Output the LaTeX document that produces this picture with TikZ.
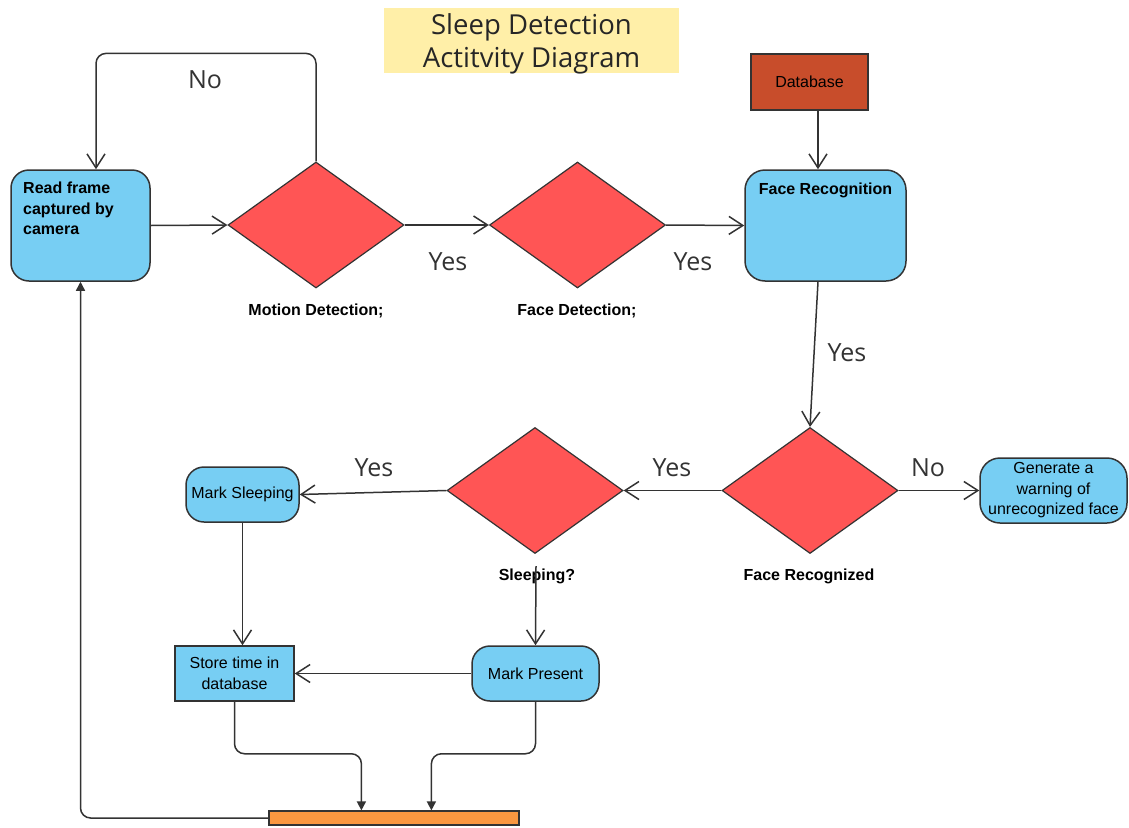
\documentclass[tikz,border=0pt]{standalone}
\usepackage{fontspec}
\usetikzlibrary{shapes.geometric,arrows.meta,calc}
\newfontfamily\boxfont{Liberation Sans}
\newfontfamily\lblfont{Open Sans}
\definecolor{linec}{HTML}{333333}
\definecolor{boxblue}{HTML}{77CEF3}
\definecolor{diared}{HTML}{FF5555}
\definecolor{dbbrown}{HTML}{C84D2B}
\definecolor{barorange}{HTML}{F99740}
\definecolor{titleyellow}{HTML}{FFEFA8}
\tikzset{
  act/.style={draw=linec, line width=1.5pt, fill=boxblue, inner sep=0pt},
  decision/.style={diamond, draw=linec, line width=1.2pt, fill=diared, inner sep=0pt,
    minimum width=176pt, minimum height=126pt},
  boxtxt/.style={font=\boxfont\fontsize{16}{20.5}\selectfont, text=black, inner sep=0pt},
  boldtxt/.style={font=\boxfont\bfseries\fontsize{16}{20.5}\selectfont, text=black, inner sep=0pt},
  guard/.style={font=\lblfont\fontsize{25}{30}\selectfont, text=linec, inner sep=0pt},
  arr/.style={draw=linec, line width=1.5pt, -{Straight Barb[length=14pt,width=18pt]}},
  farr/.style={draw=linec, line width=1.5pt, -{Triangle[length=9pt,width=9pt]}, rounded corners=10pt},
}
\begin{document}
\begin{tikzpicture}[x=1pt,y=-1pt]
\useasboundingbox (0,0) rectangle (1129,827);

% title
\node[fill=titleyellow, minimum width=295pt, minimum height=65pt, inner sep=0pt] (title) at (531.5,40.5) {};
\node[align=center, font=\lblfont\fontsize{27.5}{33}\selectfont, text=black!85, inner sep=0pt]
  (titleT) at (531.5,44) {Sleep Detection\\Actitvity Diagram};

% activities
\node[act, rounded corners=18pt, minimum width=139pt, minimum height=111pt] (read) at (80.5,225.5) {};
\node[boldtxt, anchor=north west, align=left] (readT) at (23,182) {Read frame\\captured by\\camera};

\node[decision] (motion) at (316,225) {};
\node[boldtxt] (motionT) at (316,311) {Motion Detection;};

\node[decision] (facedet) at (577.5,225) {};
\node[boldtxt] (facedetT) at (577,311) {Face Detection;};

\node[draw=linec, line width=1.5pt, fill=dbbrown, minimum width=117pt, minimum height=56pt,
      inner sep=0pt, boxtxt] (db) at (809.5,82) {Database};

\node[act, rounded corners=20pt, minimum width=161pt, minimum height=111pt] (facerec) at (825.5,225.5) {};
\node[boldtxt] (facerecT) at (825.5,190) {Face Recognition};

\node[decision] (recog) at (810,490.5) {};
\node[boldtxt] (recogT) at (809,576) {Face Recognized};

\node[act, rounded corners=20pt, minimum width=147pt, minimum height=65pt, boxtxt, align=center]
  (warn) at (1053.5,490.5) {Generate a\\warning of\\unrecognized face};

\node[decision] (sleep) at (535,490.5) {};
\node[boldtxt] (sleepT) at (537,576) {Sleeping?};

\node[act, rounded corners=18pt, minimum width=113pt, minimum height=55pt, boxtxt]
  (marksleep) at (242.5,494.5) {Mark Sleeping};

\node[act, minimum width=119pt, minimum height=55pt, boxtxt, align=center]
  (store) at (234.5,673.5) {Store time in\\database};

\node[act, rounded corners=18pt, minimum width=127pt, minimum height=55pt, boxtxt]
  (present) at (535.5,673.5) {Mark Present};

\node[draw=linec, line width=1.2pt, fill=barorange, minimum width=250pt, minimum height=14pt,
      inner sep=0pt] (bar) at (394,818) {};

% flows
\draw[arr] (read.east) -- (motion.west);
\draw[arr] (motion.east) -- (facedet.west);
\draw[arr] (facedet.east) -- (facerec.west);
\draw[arr, rounded corners=10pt] (motion.north) -- ++(0,-108) -| ($(read.north)+(15.5,0)$);
\draw[arr] ($(db.south)+(8.5,0)$) -- ($(facerec.north)+(-7.5,0)$);
\draw[arr] ($(facerec.south)+(-7.5,0)$) -- (recog.north);
\draw[arr] (recog.east) -- (warn.west);
\draw[arr] (recog.west) -- (sleep.east);
\draw[arr] (sleep.west) -- (marksleep.east);
\draw[arr] ($(sleep.south)+(1,12)$) -- (present.north);
\draw[arr] (marksleep.south) -- (marksleep.south |- store.north);
\draw[arr] (present.west) -- (store.east);
\draw[farr] (store.south) -- ++(0,52) -| ($(bar.north west)+(93,0)$);
\draw[farr] (present.south) -- ++(0,52) -| ($(bar.north west)+(163,0)$);
\draw[farr] (bar.west) -| (read.south);

% guard labels
\node[guard] (gNo1) at (205,80) {No};
\node[guard] (gYes1) at (448,262) {Yes};
\node[guard] (gYes2) at (693,262) {Yes};
\node[guard] (gYes3) at (847,353) {Yes};
\node[guard] (gNo2) at (928,468) {No};
\node[guard] (gYes4) at (672,468) {Yes};
\node[guard] (gYes5) at (374,468) {Yes};
\end{tikzpicture}
\end{document}
